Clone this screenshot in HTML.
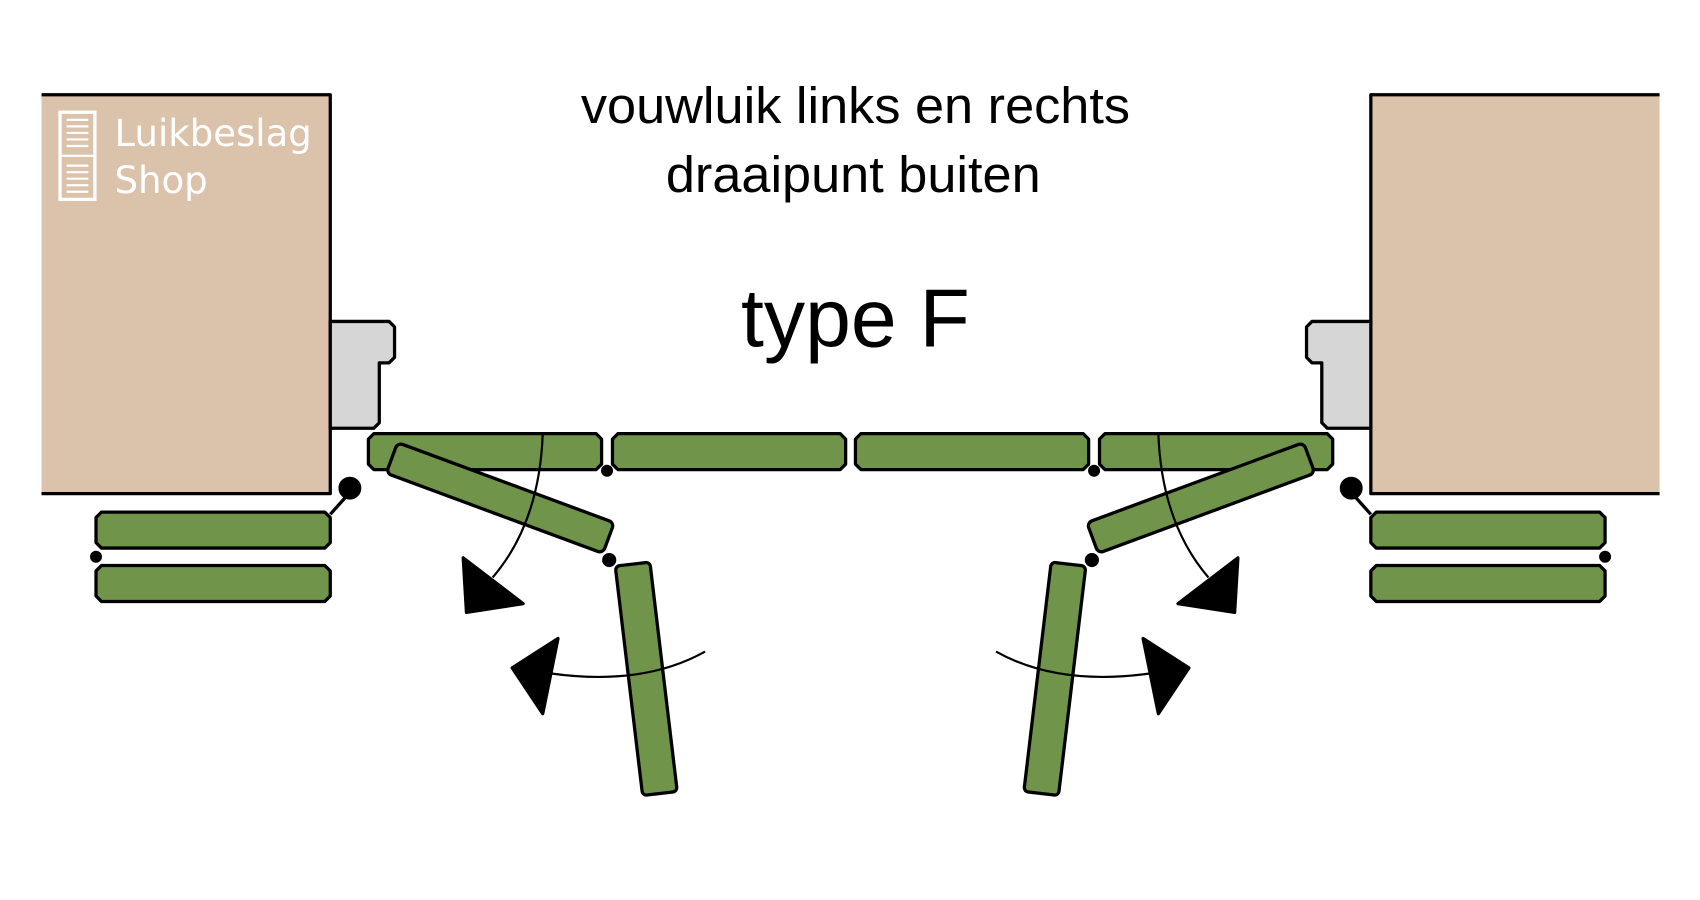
<!DOCTYPE html>
<html><head><meta charset="utf-8"><style>html,body{margin:0;padding:0;background:#fff}svg{display:block}</style></head>
<body>
<svg width="1700" height="900" viewBox="0 0 1560 826" xmlns="http://www.w3.org/2000/svg">
<defs>
<g id="side" stroke="#000" stroke-width="3" stroke-linejoin="round">
  <rect x="38" y="87" width="265" height="366" fill="#dbc3ab" stroke="none"/>
  <polyline points="38,87 303,87 303,453 38,453" fill="none"/>
  <polygon points="303,295 357,295 362,300 362,328 357,333 348,333 348,388 343,393 303,393" fill="#d6d6d6"/>
  <g fill="#6f944a">
    <polygon points="343,398 547,398 552,403 552,426 547,431 343,431 338,426 338,403"/>
    <polygon points="567,398 771,398 776,403 776,426 771,431 567,431 562,426 562,403"/>
    <polygon points="93,470 298,470 303,475 303,498 298,503 93,503 88,498 88,475"/>
    <polygon points="93,519 298,519 303,524 303,547 298,552 93,552 88,547 88,524"/>
    <rect x="-106" y="-15" width="212" height="30" rx="5" transform="translate(459,457) rotate(20.3)"/>
    <rect x="-16" y="-106" width="32" height="212" rx="4" transform="translate(593,623) rotate(-6.8)"/>
  </g>
  <circle cx="321" cy="448" r="9" fill="#000"/>
  <line x1="321" y1="452" x2="303" y2="472"/>
  <circle cx="557" cy="432" r="4" fill="#000"/>
  <circle cx="559" cy="514" r="5" fill="#000"/>
  <circle cx="88" cy="511" r="4" fill="#000"/>
  <path d="M498,398 Q495,480 452,530" fill="none" stroke-width="2"/>
  <polygon points="425,512 428,562 480,554" fill="#000"/>
  <path d="M647,598 Q590,630 505,618" fill="none" stroke-width="2"/>
  <polygon points="470,613 512,586 498,655" fill="#000"/>
</g>
</defs>
<use href="#side"/>
<use href="#side" transform="translate(1561,0) scale(-1,1)"/>
<g fill="#fff">
  <rect x="55" y="103" width="32" height="80" fill="none" stroke="#fff" stroke-width="3"/>
  <g stroke="#fff" stroke-width="2">
    <line x1="61" y1="110" x2="81" y2="110"/><line x1="61" y1="116" x2="81" y2="116"/>
    <line x1="61" y1="122" x2="81" y2="122"/><line x1="61" y1="128" x2="81" y2="128"/>
    <line x1="61" y1="134" x2="81" y2="134"/><line x1="55" y1="143" x2="87" y2="143"/>
    <line x1="61" y1="152" x2="81" y2="152"/><line x1="61" y1="158" x2="81" y2="158"/>
    <line x1="61" y1="164" x2="81" y2="164"/><line x1="61" y1="170" x2="81" y2="170"/>
    <line x1="61" y1="176" x2="81" y2="176"/>
  </g>
  <text x="105" y="134" font-family="DejaVu Sans, sans-serif" font-size="34">Luikbeslag</text>
  <text x="105" y="177" font-family="DejaVu Sans, sans-serif" font-size="34">Shop</text>
</g>
<g font-family="Liberation Sans, sans-serif" fill="#000" text-anchor="middle">
  <text x="785" y="113" font-size="47" textLength="504" lengthAdjust="spacingAndGlyphs">vouwluik links en rechts</text>
  <text x="783" y="176" font-size="47" textLength="344" lengthAdjust="spacingAndGlyphs">draaipunt buiten</text>
  <text x="785" y="318" font-size="76" textLength="210" lengthAdjust="spacingAndGlyphs">type F</text>
</g>
</svg>
</body></html>
